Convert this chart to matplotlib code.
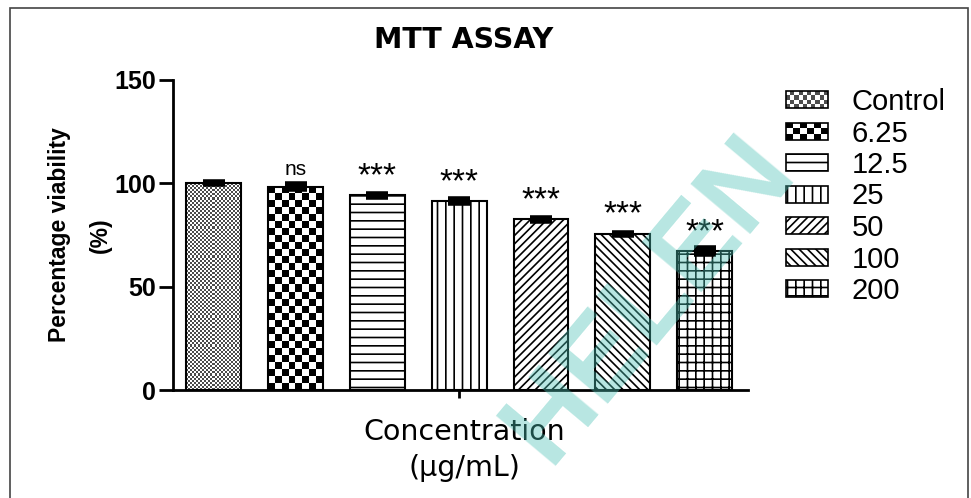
import numpy as np
import matplotlib
matplotlib.use("Agg")
import matplotlib.pyplot as plt
from matplotlib.patches import Rectangle, Patch
from matplotlib.legend_handler import HandlerBase

categories = ["Control", "6.25", "12.5", "25", "50", "100", "200"]
viability = [100.0, 98.4, 94.2, 91.3, 82.6, 75.6, 67.1]
errors = [0.5, 1.2, 0.8, 1.0, 0.7, 0.5, 1.5]
significance = ["", "ns", "***", "***", "***", "***", "***"]
hatches = [None, None, "--", "||", "////", "\\\\\\\\", "++"]

DPI = 100
plt.rcParams["hatch.linewidth"] = 1.2
plt.rcParams["font.family"] = ["Liberation Sans", "DejaVu Sans"]


def checker(nx, ny, dark):
    i, j = np.indices((ny, nx))
    return np.where((i + j) % 2 == 0, dark, 1.0)


class CheckerHandler(HandlerBase):
    def __init__(self, nx, ny, dark):
        super().__init__()
        self.nx, self.ny, self.dark = nx, ny, dark

    def create_artists(self, legend, orig_handle, xdescent, ydescent,
                       width, height, fontsize, trans):
        arts = []
        cw = width / self.nx
        ch = height / self.ny
        for r in range(self.ny):
            for c in range(self.nx):
                if (r + c) % 2 == 0:
                    arts.append(Rectangle((-xdescent + c * cw, -ydescent + r * ch), cw, ch,
                                          facecolor=str(self.dark), edgecolor="none",
                                          transform=trans))
        arts.append(Rectangle((-xdescent, -ydescent), width, height, facecolor="none",
                              edgecolor="black", lw=1.2, transform=trans))
        return arts


fig = plt.figure(figsize=(971 / DPI, 498 / DPI), dpi=DPI)
ax = fig.add_axes([173 / 971, 108 / 498, 575 / 971, 310 / 498])

x = np.arange(len(categories))
bars = ax.bar(x, viability, width=0.67, facecolor="none", edgecolor="black",
              linewidth=1.5, zorder=2)
for b, h in zip(bars, hatches):
    if h:
        b.set_hatch(h)

# textured fills for the first two bars (fine dots, big checker)
textures = {0: (27, 0.3, 1.0), 1: (8, 0.0, 3.4)}
for idx, (nx, dark, cell) in textures.items():
    b = bars[idx]
    x0, w, hgt = b.get_x(), b.get_width(), b.get_height()
    ny = int(round(hgt / cell))
    im = ax.imshow(checker(nx, ny, dark), cmap="gray", vmin=0, vmax=1,
                   extent=(x0, x0 + w, 0, hgt), aspect="auto",
                   interpolation="nearest", zorder=1)
    im.set_clip_path(b)

ax.errorbar(x, viability, yerr=errors, fmt="none", ecolor="black",
            elinewidth=3, capsize=8, capthick=4, zorder=3)

for xi, v, e, s in zip(x, viability, errors, significance):
    if s == "ns":
        ax.text(xi, v + e + 2.5, s, ha="center", va="bottom", fontsize=15)
    elif s:
        ax.text(xi, v + 9, s, ha="center", va="center", fontsize=24)

ax.set_xlim(-0.5, 6.53)
ax.set_ylim(0, 150)
ax.set_yticks([0, 50, 100, 150])
ax.set_xticks([3])
ax.set_xticklabels([""])
for lbl in ax.get_yticklabels():
    lbl.set_fontweight("bold")
ax.tick_params(axis="y", length=10, width=2, labelsize=18, pad=2)
ax.tick_params(axis="x", length=6, width=2)
for side in ["top", "right"]:
    ax.spines[side].set_visible(False)
for side in ["left", "bottom"]:
    ax.spines[side].set_linewidth(2)

ax.set_ylabel("Percentage viability\n(%)", fontsize=16.5, fontweight="bold",
              linespacing=2.0, labelpad=2)
fig.text(464 / 971, 1 - 450 / 498, "Concentration\n(µg/mL)", ha="center",
         va="center", fontsize=20.5, linespacing=1.4,
         family=["DejaVu Sans"])
fig.text(464 / 971, 1 - 40 / 498, "MTT ASSAY", ha="center", va="center",
         fontsize=20.5, fontweight="bold", family=["DejaVu Sans"])

handles = []
handler_map = {}
for c, h in zip(categories, hatches):
    handles.append(Patch(facecolor="white", edgecolor="black", hatch=h,
                         linewidth=1.2, label=c))
handler_map[handles[0]] = CheckerHandler(10, 4, 0.3)
handler_map[handles[1]] = CheckerHandler(6, 3, 0.0)
fig.legend(handles=handles, handler_map=handler_map, loc="upper left",
           bbox_to_anchor=(786 / 971, 1 - 88 / 498), frameon=False,
           fontsize=21, handlelength=1.44, handleheight=0.51, handletextpad=0.82,
           labelspacing=0.12, borderpad=0, borderaxespad=0)

# watermark
fig.text(650 / 971, 1 - 300 / 498, "HELEN", ha="center", va="center", fontsize=82,
         fontweight="bold", rotation=50, color="#4cc2b6", alpha=0.4, zorder=10)

fig.add_artist(Rectangle((10 / 971, -0.02), 958 / 971, 1 - 8 / 498 + 0.02,
                         transform=fig.transFigure, facecolor="none",
                         edgecolor="#444444", lw=1.2))

fig.savefig("out.png", dpi=DPI)
